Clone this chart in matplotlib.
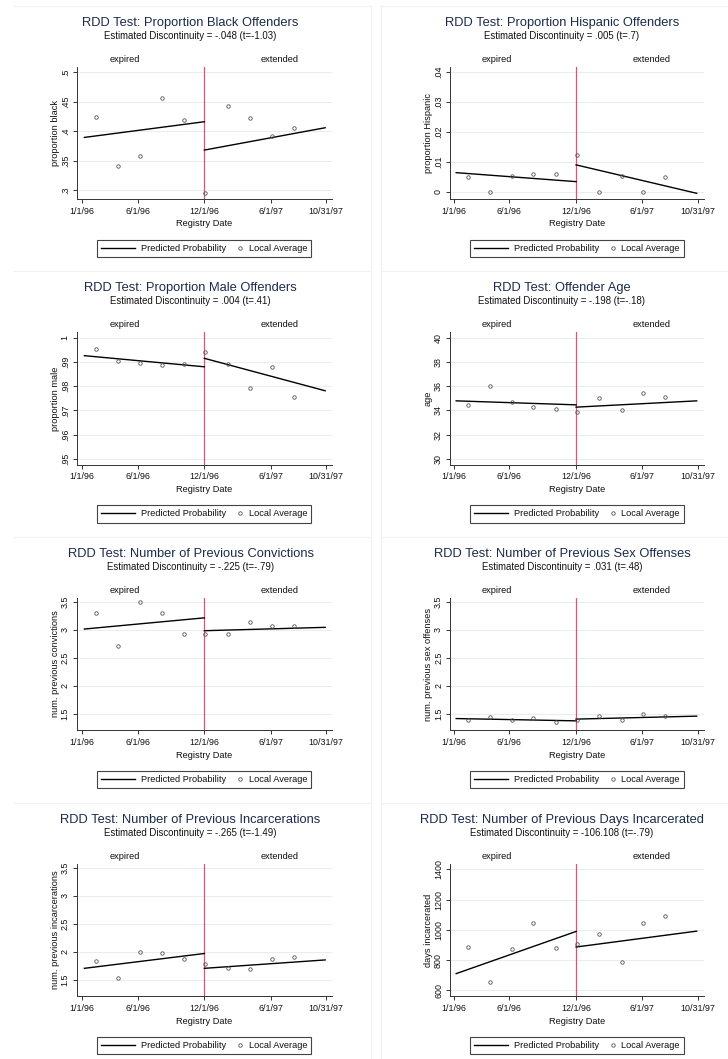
import matplotlib
matplotlib.use("Agg")
import matplotlib.pyplot as plt
from matplotlib.lines import Line2D
from matplotlib.legend_handler import HandlerLine2D
import matplotlib.transforms as mtransforms

plt.rcParams['font.family'] = ['Liberation Sans', 'DejaVu Sans']

# ---------------- data ----------------
# x positions are days since 1/1/96
bin_days = [39, 98, 158, 218, 279, 338, 399, 460, 519, 580]
cutoff_day = 335
left_fit_days = [6, 335]
right_fit_days = [335, 666]
xtick_days = [0, 152, 335, 517, 669]
xtick_labels = ["1/1/96", "6/1/96", "12/1/96", "6/1/97", "10/31/97"]
regime_days = [117, 542]
regime_labels = ["expired", "extended"]

titles = [
    "RDD Test: Proportion Black Offenders",
    "RDD Test: Proportion Hispanic Offenders",
    "RDD Test: Proportion Male Offenders",
    "RDD Test: Offender Age",
    "RDD Test: Number of Previous Convictions",
    "RDD Test: Number of Previous Sex Offenses",
    "RDD Test: Number of Previous Incarcerations",
    "RDD Test: Number of Previous Days Incarcerated",
]
subtitles = [
    "Estimated Discontinuity = -.048 (t=-1.03)",
    "Estimated Discontinuity = .005 (t=.7)",
    "Estimated Discontinuity = .004 (t=.41)",
    "Estimated Discontinuity = -.198 (t=-.18)",
    "Estimated Discontinuity = -.225 (t=-.79)",
    "Estimated Discontinuity = .031 (t=.48)",
    "Estimated Discontinuity = -.265 (t=-1.49)",
    "Estimated Discontinuity = -106.108 (t=-.79)",
]
ylabels = [
    "proportion black", "proportion Hispanic", "proportion male", "age",
    "num. previous convictions", "num. previous sex offenses",
    "num. previous incarcerations", "days incarcerated",
]

black_avg = [0.4237, 0.3412, 0.3588, 0.4565, 0.4186, 0.2949, 0.4429, 0.4232, 0.3921, 0.4062]
black_fit_left = [0.3898, 0.4164]
black_fit_right = [0.3684, 0.4062]

hisp_avg = [0.0049, 0.0, 0.0053, 0.0060, 0.0058, 0.0122, 0.0, 0.0051, 0.0, 0.0049]
hisp_fit_left = [0.0063, 0.0033]
hisp_fit_right = [0.0089, -0.0006]

male_avg = [0.9954, 0.9903, 0.9894, 0.9886, 0.9890, 0.9940, 0.9890, 0.9791, 0.9879, 0.9755]
male_fit_left = [0.9926, 0.9880]
male_fit_right = [0.9915, 0.9781]

age_avg = [34.44, 36.03, 34.68, 34.27, 34.10, 33.86, 34.99, 34.05, 35.43, 35.10]
age_fit_left = [34.79, 34.46]
age_fit_right = [34.27, 34.79]

conv_avg = [3.29, 2.70, 3.49, 3.29, 2.93, 2.93, 2.93, 3.14, 3.06, 3.06]
conv_fit_left = [3.01, 3.21]
conv_fit_right = [2.98, 3.04]

sex_avg = [1.386, 1.434, 1.386, 1.420, 1.350, 1.380, 1.459, 1.386, 1.488, 1.459]
sex_fit_left = [1.410, 1.369]
sex_fit_right = [1.400, 1.453]

incar_avg = [1.83, 1.52, 2.00, 1.97, 1.87, 1.78, 1.70, 1.69, 1.86, 1.90]
incar_fit_left = [1.70, 1.965]
incar_fit_right = [1.70, 1.850]

days_avg = [886, 653, 872, 1044, 879, 903, 971, 787, 1048, 1090]
days_fit_left = [710, 989]
days_fit_right = [886, 991]

avgs = [black_avg, hisp_avg, male_avg, age_avg, conv_avg, sex_avg, incar_avg, days_avg]
fits_left = [black_fit_left, hisp_fit_left, male_fit_left, age_fit_left,
             conv_fit_left, sex_fit_left, incar_fit_left, days_fit_left]
fits_right = [black_fit_right, hisp_fit_right, male_fit_right, age_fit_right,
              conv_fit_right, sex_fit_right, incar_fit_right, days_fit_right]

yticks = [
    [0.3, 0.35, 0.4, 0.45, 0.5],
    [0, 0.01, 0.02, 0.03, 0.04],
    [0.95, 0.96, 0.97, 0.98, 0.99, 1.0],
    [30, 32, 34, 36, 38, 40],
    [1.5, 2, 2.5, 3, 3.5],
    [1.5, 2, 2.5, 3, 3.5],
    [1.5, 2, 2.5, 3, 3.5],
    [600, 800, 1000, 1200, 1400],
]
ytick_labels = [
    [".3", ".35", ".4", ".45", ".5"],
    ["0", ".01", ".02", ".03", ".04"],
    [".95", ".96", ".97", ".98", ".99", "1"],
    ["30", "32", "34", "36", "38", "40"],
    ["1.5", "2", "2.5", "3", "3.5"],
    ["1.5", "2", "2.5", "3", "3.5"],
    ["1.5", "2", "2.5", "3", "3.5"],
    ["600", "800", "1000", "1200", "1400"],
]
ylims = [
    (0.285, 0.5096), (-0.0026, 0.0417), (0.9475, 1.0023), (29.5, 40.47),
    (1.2, 3.57), (1.2, 3.57), (1.2, 3.57), (560, 1437),
]
legend_labels = ["Predicted Probability", "Local Average"]

# ---------------- layout ----------------
W, H = 728, 1059
fig = plt.figure(figsize=(W / 100, H / 100), dpi=100)
fig.patch.set_facecolor("white")

row_off = [0, 265.5, 531, 797]
col_off = [0, 364]
ax_left_rel = [76.7, 86.0]
ax_width = [255.0, 254.0]
xlims = [(-15, 684), (-11, 686)]
title_cx = [190.5, 198.0]
ax_top_rel, ax_h = 66.7, 132.6

TITLE_C = "#1c2b4b"
TXT_C = "#111111"
GRID_C = "#e6eef0"
RED_C = "#e0507a"
BORDER_C = "#eef2f3"


class FixedWidthHandler(HandlerLine2D):
    def __init__(self, width_pt, **kw):
        super().__init__(**kw)
        self.width_pt = width_pt

    def legend_artist(self, legend, orig_handle, fontsize, handlebox):
        handlebox.width = self.width_pt
        return super().legend_artist(legend, orig_handle, fontsize, handlebox)


def add_px_axes(x0, y0, w, h):
    return fig.add_axes([x0 / W, 1 - (y0 + h) / H, w / W, h / H])


def fig_line(x0, y0, x1, y1):
    fig.add_artist(Line2D([x0 / W, x1 / W], [1 - y0 / H, 1 - y1 / H],
                          transform=fig.transFigure, color=BORDER_C, lw=0.8))


# faint graph-region outlines
for r in range(4):
    top = row_off[r] + 6
    fig_line(13, top, 371, top)
    fig_line(381, top, W, top)
fig_line(371, 6, 371, H)
fig_line(381, 6, 381, H)

for i in range(8):
    r, c = divmod(i, 2)
    R = row_off[r]
    C = col_off[c]

    ax = add_px_axes(C + ax_left_rel[c], R + ax_top_rel, ax_width[c], ax_h)
    ax.set_facecolor("white")

    # titles
    fig.text((C + title_cx[c]) / W, 1 - (R + 22.7) / H, titles[i], ha="center",
             va="center", fontsize=9.3, color=TITLE_C)
    fig.text((C + title_cx[c]) / W, 1 - (R + 36.0) / H, subtitles[i], ha="center",
             va="center", fontsize=6.9, color=TXT_C)

    ax.set_xlim(*xlims[c])
    ax.set_ylim(*ylims[i])

    ax.set_yticks(yticks[i])
    ax.set_yticklabels(ytick_labels[i], rotation=90, va="center")
    ax.set_xticks(xtick_days)
    ax.set_xticklabels(xtick_labels)

    ax.grid(axis="y", color=GRID_C, lw=0.8)
    ax.set_axisbelow(True)
    for s in ["top", "right"]:
        ax.spines[s].set_visible(False)
    for s in ["left", "bottom"]:
        ax.spines[s].set_color("#333333")
        ax.spines[s].set_linewidth(0.7)
    ax.tick_params(axis="both", length=3, width=0.7, color="#333333",
                   labelsize=6.4, labelcolor=TXT_C)
    ax.tick_params(axis="x", pad=2.5)
    ax.tick_params(axis="y", pad=2.0)

    ax.axvline(cutoff_day, color=RED_C, lw=0.9, zorder=2)

    ax.plot(left_fit_days, fits_left[i], color="black", lw=1.0, zorder=3)
    ax.plot(right_fit_days, fits_right[i], color="black", lw=1.0, zorder=3)
    ax.plot(bin_days, avgs[i], linestyle="none", marker="o", markersize=2.5,
            markerfacecolor="none", markeredgecolor="#555555", markeredgewidth=0.6,
            zorder=4)

    trans = mtransforms.blended_transform_factory(ax.transData, ax.transAxes)
    for d, lab in zip(regime_days, regime_labels):
        ax.text(d, 1 + 7.4 / ax_h, lab, transform=trans, ha="center", va="center",
                fontsize=6.7, color=TXT_C)

    ax.set_xlabel("Registry Date", fontsize=6.7, color=TXT_C)
    ax.xaxis.set_label_coords(0.5, -24.7 / ax_h)
    ax.xaxis.label.set_va("center")
    ax.set_ylabel(ylabels[i], fontsize=6.7, color=TXT_C)
    ax.yaxis.set_label_coords(-21.5 / ax_width[c], 0.5)
    ax.yaxis.label.set_va("center")

    line_h = Line2D([], [], color="black", lw=1.0)
    mk_h = Line2D([], [], linestyle="none", marker="o", markersize=2.5,
                  markerfacecolor="none", markeredgecolor="#555555", markeredgewidth=0.6)
    leg = ax.legend([line_h, mk_h], legend_labels, ncol=2, loc="center",
                    bbox_to_anchor=(0.5, -49.2 / ax_h), bbox_transform=ax.transAxes,
                    frameon=True, fancybox=False, edgecolor="#444444", framealpha=1,
                    fontsize=6.7, handletextpad=0.65, columnspacing=1.2,
                    borderpad=0.45, borderaxespad=0,
                    handler_map={line_h: FixedWidthHandler(24.5),
                                 mk_h: FixedWidthHandler(3.6, numpoints=1)})
    leg.get_frame().set_linewidth(0.8)
    for t in leg.get_texts():
        t.set_color(TXT_C)

fig.savefig("out.png", dpi=100, facecolor="white")
